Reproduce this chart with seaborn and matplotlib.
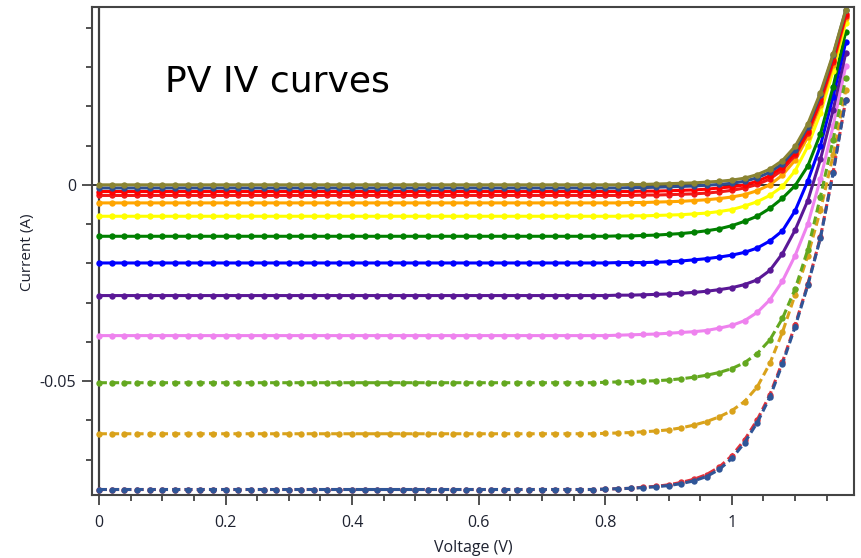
import matplotlib
matplotlib.use("Agg")
import matplotlib.pyplot as plt
import seaborn as sns
import pandas as pd
from matplotlib.ticker import MultipleLocator, FixedLocator

# ---------------- data ----------------
voltage = [0.00, 0.02, 0.04, 0.06, 0.08, 0.10, 0.12, 0.14, 0.16, 0.18,
           0.20, 0.22, 0.24, 0.26, 0.28, 0.30, 0.32, 0.34, 0.36, 0.38,
           0.40, 0.42, 0.44, 0.46, 0.48, 0.50, 0.52, 0.54, 0.56, 0.58,
           0.60, 0.62, 0.64, 0.66, 0.68, 0.70, 0.72, 0.74, 0.76, 0.78,
           0.80, 0.82, 0.84, 0.86, 0.88, 0.90, 0.92, 0.94, 0.96, 0.98,
           1.00, 1.02, 1.04, 1.06, 1.08, 1.10, 1.12, 1.14, 1.16, 1.18]

i_olive = [0.0000, 0.0000, 0.0000, 0.0000, 0.0000, 0.0000, 0.0000, 0.0000, 0.0000, 0.0000,
           0.0000, 0.0000, 0.0000, 0.0000, 0.0000, 0.0000, 0.0000, 0.0000, 0.0000, 0.0000,
           0.0000, 0.0000, 0.0000, 0.0000, 0.0000, 0.0000, 0.0000, 0.0000, 0.0000, 0.0000,
           0.0000, 0.0000, 0.0000, 0.0000, 0.0000, 0.0000, 0.0000, 0.0000, 0.0000, 0.0000,
           0.0000, 0.0000, 0.0001, 0.0001, 0.0002, 0.0003, 0.0004, 0.0005, 0.0007, 0.0009,
           0.0012, 0.0017, 0.0026, 0.0040, 0.0062, 0.0098, 0.0155, 0.0235, 0.0333, 0.0446]

i_darkblue = [-0.0008, -0.0008, -0.0008, -0.0008, -0.0008, -0.0008, -0.0008, -0.0008, -0.0008, -0.0008,
              -0.0008, -0.0008, -0.0008, -0.0008, -0.0008, -0.0008, -0.0008, -0.0008, -0.0008, -0.0008,
              -0.0008, -0.0008, -0.0008, -0.0008, -0.0008, -0.0008, -0.0008, -0.0008, -0.0008, -0.0008,
              -0.0008, -0.0008, -0.0008, -0.0008, -0.0008, -0.0008, -0.0008, -0.0008, -0.0008, -0.0008,
              -0.0008, -0.0008, -0.0007, -0.0007, -0.0006, -0.0005, -0.0004, -0.0003, -0.0001, 0.0001,
              0.0004, 0.0009, 0.0018, 0.0032, 0.0054, 0.0090, 0.0148, 0.0229, 0.0330, 0.0445]

i_red = [-0.0017, -0.0017, -0.0017, -0.0017, -0.0017, -0.0017, -0.0017, -0.0017, -0.0017, -0.0017,
         -0.0017, -0.0017, -0.0017, -0.0017, -0.0017, -0.0017, -0.0017, -0.0017, -0.0017, -0.0017,
         -0.0017, -0.0017, -0.0017, -0.0017, -0.0017, -0.0017, -0.0017, -0.0017, -0.0017, -0.0017,
         -0.0017, -0.0017, -0.0017, -0.0017, -0.0017, -0.0017, -0.0017, -0.0017, -0.0017, -0.0017,
         -0.0017, -0.0017, -0.0017, -0.0016, -0.0016, -0.0015, -0.0014, -0.0013, -0.0011, -0.0008,
         -0.0005, 0.0000, 0.0009, 0.0023, 0.0046, 0.0082, 0.0138, 0.0218, 0.0318, 0.0435]

i_red2 = [-0.0027, -0.0027, -0.0027, -0.0027, -0.0027, -0.0027, -0.0027, -0.0027, -0.0027, -0.0027,
          -0.0027, -0.0027, -0.0027, -0.0027, -0.0027, -0.0027, -0.0027, -0.0027, -0.0027, -0.0027,
          -0.0027, -0.0027, -0.0027, -0.0027, -0.0027, -0.0027, -0.0027, -0.0027, -0.0027, -0.0027,
          -0.0027, -0.0027, -0.0027, -0.0027, -0.0027, -0.0027, -0.0027, -0.0027, -0.0027, -0.0027,
          -0.0027, -0.0027, -0.0027, -0.0026, -0.0026, -0.0025, -0.0024, -0.0023, -0.0021, -0.0018,
          -0.0014, -0.0008, 0.0001, 0.0015, 0.0038, 0.0075, 0.0131, 0.0211, 0.0312, 0.0430]

i_orange = [-0.0046, -0.0046, -0.0046, -0.0046, -0.0046, -0.0046, -0.0046, -0.0046, -0.0046, -0.0046,
            -0.0046, -0.0046, -0.0046, -0.0046, -0.0046, -0.0046, -0.0046, -0.0046, -0.0046, -0.0046,
            -0.0046, -0.0046, -0.0046, -0.0046, -0.0046, -0.0046, -0.0046, -0.0046, -0.0046, -0.0046,
            -0.0046, -0.0046, -0.0046, -0.0046, -0.0046, -0.0046, -0.0046, -0.0046, -0.0046, -0.0046,
            -0.0046, -0.0046, -0.0045, -0.0045, -0.0044, -0.0043, -0.0042, -0.0040, -0.0038, -0.0035,
            -0.0031, -0.0025, -0.0015, 0.0000, 0.0025, 0.0063, 0.0122, 0.0203, 0.0305, 0.0425]

i_yellow = [-0.0080, -0.0080, -0.0080, -0.0080, -0.0080, -0.0080, -0.0080, -0.0080, -0.0080, -0.0080,
            -0.0080, -0.0080, -0.0080, -0.0080, -0.0080, -0.0080, -0.0080, -0.0080, -0.0080, -0.0080,
            -0.0080, -0.0080, -0.0080, -0.0080, -0.0080, -0.0080, -0.0080, -0.0080, -0.0080, -0.0080,
            -0.0080, -0.0080, -0.0080, -0.0080, -0.0080, -0.0080, -0.0080, -0.0080, -0.0080, -0.0080,
            -0.0080, -0.0080, -0.0079, -0.0079, -0.0078, -0.0077, -0.0076, -0.0074, -0.0072, -0.0068,
            -0.0063, -0.0054, -0.0043, -0.0027, -0.0004, 0.0036, 0.0098, 0.0183, 0.0290, 0.0413]

i_green = [-0.0131, -0.0131, -0.0131, -0.0131, -0.0131, -0.0131, -0.0131, -0.0131, -0.0131, -0.0131,
           -0.0131, -0.0131, -0.0131, -0.0131, -0.0131, -0.0131, -0.0131, -0.0131, -0.0131, -0.0131,
           -0.0131, -0.0131, -0.0131, -0.0131, -0.0131, -0.0131, -0.0131, -0.0131, -0.0131, -0.0131,
           -0.0131, -0.0131, -0.0131, -0.0131, -0.0131, -0.0131, -0.0131, -0.0131, -0.0131, -0.0131,
           -0.0131, -0.0130, -0.0130, -0.0129, -0.0128, -0.0126, -0.0124, -0.0121, -0.0117, -0.0112,
           -0.0104, -0.0093, -0.0080, -0.0060, -0.0034, -0.0002, 0.0048, 0.0130, 0.0250, 0.0390]

i_blue = [-0.0199, -0.0199, -0.0199, -0.0199, -0.0199, -0.0199, -0.0199, -0.0199, -0.0199, -0.0199,
          -0.0199, -0.0199, -0.0199, -0.0199, -0.0199, -0.0199, -0.0199, -0.0199, -0.0199, -0.0199,
          -0.0199, -0.0199, -0.0199, -0.0199, -0.0199, -0.0199, -0.0199, -0.0199, -0.0199, -0.0199,
          -0.0199, -0.0199, -0.0199, -0.0199, -0.0199, -0.0199, -0.0199, -0.0199, -0.0199, -0.0199,
          -0.0199, -0.0198, -0.0198, -0.0198, -0.0197, -0.0196, -0.0194, -0.0191, -0.0188, -0.0184,
          -0.0179, -0.0172, -0.0161, -0.0143, -0.0117, -0.0066, 0.0010, 0.0100, 0.0225, 0.0364]

i_purple = [-0.0282, -0.0282, -0.0282, -0.0282, -0.0282, -0.0282, -0.0282, -0.0282, -0.0282, -0.0282,
            -0.0282, -0.0282, -0.0282, -0.0282, -0.0282, -0.0282, -0.0282, -0.0282, -0.0282, -0.0282,
            -0.0282, -0.0282, -0.0282, -0.0282, -0.0282, -0.0282, -0.0282, -0.0282, -0.0282, -0.0282,
            -0.0282, -0.0282, -0.0282, -0.0282, -0.0282, -0.0282, -0.0282, -0.0282, -0.0282, -0.0282,
            -0.0282, -0.0281, -0.0281, -0.0280, -0.0279, -0.0278, -0.0276, -0.0274, -0.0271, -0.0267,
            -0.0262, -0.0254, -0.0242, -0.0218, -0.0175, -0.0115, -0.0040, 0.0065, 0.0190, 0.0336]

i_violet = [-0.0384, -0.0384, -0.0384, -0.0384, -0.0384, -0.0384, -0.0384, -0.0384, -0.0384, -0.0384,
            -0.0384, -0.0384, -0.0384, -0.0384, -0.0384, -0.0384, -0.0384, -0.0384, -0.0384, -0.0384,
            -0.0384, -0.0384, -0.0384, -0.0384, -0.0384, -0.0384, -0.0384, -0.0384, -0.0384, -0.0384,
            -0.0384, -0.0384, -0.0384, -0.0384, -0.0384, -0.0384, -0.0384, -0.0384, -0.0384, -0.0384,
            -0.0384, -0.0383, -0.0382, -0.0381, -0.0380, -0.0378, -0.0376, -0.0374, -0.0371, -0.0365,
            -0.0358, -0.0346, -0.0325, -0.0293, -0.0245, -0.0180, -0.0100, 0.0015, 0.0150, 0.0303]

i_yellowgreen = [-0.0504, -0.0504, -0.0504, -0.0504, -0.0504, -0.0504, -0.0504, -0.0504, -0.0504, -0.0504,
                 -0.0504, -0.0504, -0.0504, -0.0504, -0.0504, -0.0504, -0.0504, -0.0504, -0.0504, -0.0504,
                 -0.0504, -0.0504, -0.0504, -0.0504, -0.0504, -0.0504, -0.0504, -0.0504, -0.0504, -0.0504,
                 -0.0504, -0.0504, -0.0504, -0.0504, -0.0504, -0.0504, -0.0504, -0.0504, -0.0504, -0.0504,
                 -0.0503, -0.0502, -0.0501, -0.0500, -0.0499, -0.0497, -0.0494, -0.0490, -0.0485, -0.0478,
                 -0.0468, -0.0453, -0.0430, -0.0395, -0.0340, -0.0265, -0.0165, -0.0030, 0.0115, 0.0272]

i_goldenrod = [-0.0634, -0.0634, -0.0634, -0.0634, -0.0634, -0.0634, -0.0634, -0.0634, -0.0634, -0.0634,
               -0.0634, -0.0634, -0.0634, -0.0634, -0.0634, -0.0634, -0.0634, -0.0634, -0.0634, -0.0634,
               -0.0634, -0.0634, -0.0634, -0.0634, -0.0634, -0.0634, -0.0634, -0.0634, -0.0634, -0.0634,
               -0.0634, -0.0634, -0.0634, -0.0634, -0.0634, -0.0634, -0.0634, -0.0634, -0.0634, -0.0634,
               -0.0633, -0.0632, -0.0631, -0.0629, -0.0627, -0.0624, -0.0619, -0.0612, -0.0603, -0.0591,
               -0.0575, -0.0552, -0.0515, -0.0455, -0.0375, -0.0280, -0.0180, -0.0065, 0.0075, 0.0242]

i_reddash = [-0.0776, -0.0776, -0.0776, -0.0776, -0.0776, -0.0776, -0.0776, -0.0776, -0.0776, -0.0776,
             -0.0776, -0.0776, -0.0776, -0.0776, -0.0776, -0.0776, -0.0776, -0.0776, -0.0776, -0.0776,
             -0.0776, -0.0776, -0.0776, -0.0776, -0.0776, -0.0776, -0.0776, -0.0776, -0.0776, -0.0776,
             -0.0776, -0.0776, -0.0776, -0.0776, -0.0776, -0.0776, -0.0776, -0.0776, -0.0776, -0.0776,
             -0.0775, -0.0774, -0.0773, -0.0770, -0.0768, -0.0764, -0.0758, -0.0750, -0.0738, -0.0719,
             -0.0690, -0.0650, -0.0599, -0.0535, -0.0451, -0.0357, -0.0253, -0.0133, 0.0032, 0.0217]

i_bluedash = [-0.0776, -0.0776, -0.0776, -0.0776, -0.0776, -0.0776, -0.0776, -0.0776, -0.0776, -0.0776,
              -0.0776, -0.0776, -0.0776, -0.0776, -0.0776, -0.0776, -0.0776, -0.0776, -0.0776, -0.0776,
              -0.0776, -0.0776, -0.0776, -0.0776, -0.0776, -0.0776, -0.0776, -0.0776, -0.0776, -0.0776,
              -0.0776, -0.0776, -0.0776, -0.0776, -0.0776, -0.0776, -0.0776, -0.0776, -0.0776, -0.0776,
              -0.0775, -0.0774, -0.0773, -0.0771, -0.0769, -0.0766, -0.0761, -0.0754, -0.0743, -0.0725,
              -0.0697, -0.0657, -0.0606, -0.0541, -0.0456, -0.0361, -0.0256, -0.0135, 0.0030, 0.0217]

# drawing order (first drawn = bottom)
curve_names = ["violet", "purple", "blue", "green", "yellow", "orange", "red2", "red",
               "darkblue", "olive", "goldenrod", "yellowgreen", "reddash", "bluedash"]
curve_values = [i_violet, i_purple, i_blue, i_green, i_yellow, i_orange, i_red2, i_red,
                i_darkblue, i_olive, i_goldenrod, i_yellowgreen, i_reddash, i_bluedash]
curve_colors = ["#ee82ee", "#5a1896", "#0000ff", "#008000", "#ffff00", "#ffa500", "#f01818", "#ff0000",
                "#2f4f8f", "#8a8433", "#d9a21b", "#64a820", "#e0303a", "#2f5597"]
curve_dashed = [False, False, False, False, False, False, False, False,
                False, False, True, True, True, True]

# ---------------- build long table ----------------
rows = []
for name, vals in zip(curve_names, curve_values):
    for v, i in zip(voltage, vals):
        rows.append({"curve": name, "V": v, "I": i})
df = pd.DataFrame(rows)

palette = dict(zip(curve_names, curve_colors))
dashes = {n: ((2.6, 1.4) if d else "") for n, d in zip(curve_names, curve_dashed)}
markers = {n: "o" for n in curve_names}

sns.set_style("white")
plt.rcParams["font.family"] = ["Open Sans", "DejaVu Sans"]

fig = plt.figure(figsize=(8.61, 5.58), dpi=100)
ax = fig.add_axes([92 / 861, 63 / 558, 762 / 861, 488 / 558])

ax.axhline(0, color="black", lw=1.1, zorder=1)
ax.axvline(0, color="#404040", lw=1.6, zorder=1)

sns.lineplot(data=df, x="V", y="I", hue="curve", style="curve",
             hue_order=curve_names, style_order=curve_names,
             palette=palette, dashes=dashes, markers=markers,
             estimator=None, sort=False, legend=False,
             lw=2.2, markersize=4.6, markeredgewidth=0, ax=ax, zorder=2)

ax.set_xlim(-0.011, 1.193)
ax.set_ylim(-0.0790, 0.0453)

ax.xaxis.set_major_locator(FixedLocator([0, 0.2, 0.4, 0.6, 0.8, 1.0]))
ax.xaxis.set_minor_locator(MultipleLocator(0.05))
ax.set_xticklabels(["0", "0.2", "0.4", "0.6", "0.8", "1"])
ax.yaxis.set_major_locator(FixedLocator([-0.05, 0]))
ax.yaxis.set_minor_locator(MultipleLocator(0.01))
ax.set_yticklabels(["-0.05", "0"])

txtc = "#1e2230"
ax.tick_params(axis="both", which="both", bottom=True, left=True, top=False, right=False)
ax.tick_params(axis="both", which="major", direction="out", length=7.5, width=1.1,
               color="#222222", labelsize=11.5, labelcolor=txtc, pad=4)
ax.tick_params(axis="both", which="minor", direction="out", length=4.6, width=1.1,
               color="#222222")
ax.tick_params(axis="x", which="major", pad=7)

for sp in ax.spines.values():
    sp.set_color("#444444")
    sp.set_linewidth(1.5)

ax.set_xlabel("Voltage (V)", fontsize=11.5, color=txtc)
ax.set_ylabel("Current (A)", fontsize=11, color=txtc)
ax.xaxis.set_label_coords((473 - 92) / 762, -(540 - 495) / 488)
ax.yaxis.set_label_coords(-(92 - 35) / 762, (495 - 252) / 488)

fig.text(165 / 861, 1 - 91 / 558, "PV IV curves", fontsize=26, color="black",
         family=["DejaVu Sans"], ha="left", va="baseline")

fig.savefig("out.png", dpi=100)
